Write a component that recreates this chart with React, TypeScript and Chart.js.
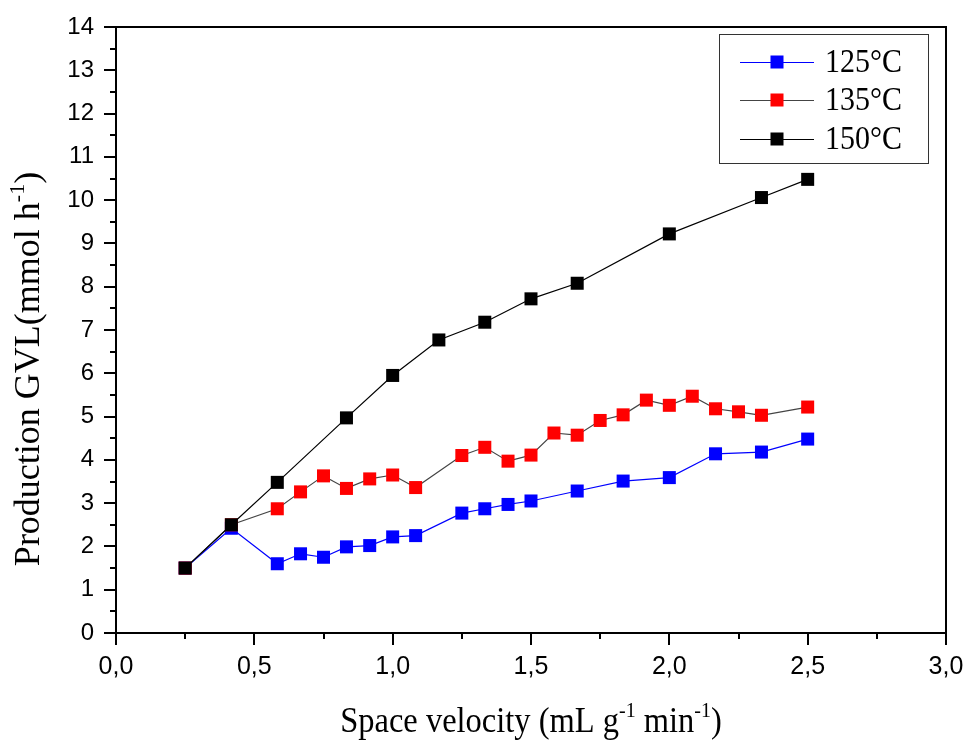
import React, { useEffect, useRef } from "react";
import { Chart, registerables } from "chart.js";

Chart.register(...registerables);

// ---- data ----
const x125 = [0.25, 0.417, 0.583, 0.667, 0.75, 0.833, 0.917, 1.0, 1.083, 1.25, 1.333, 1.417, 1.5, 1.667, 1.833, 2.0, 2.167, 2.333, 2.5];
const y125 = [1.5, 2.42, 1.6, 1.83, 1.75, 1.99, 2.02, 2.22, 2.25, 2.77, 2.87, 2.97, 3.05, 3.28, 3.51, 3.59, 4.14, 4.18, 4.48];

const x135 = [0.25, 0.417, 0.583, 0.667, 0.75, 0.833, 0.917, 1.0, 1.083, 1.25, 1.333, 1.417, 1.5, 1.583, 1.667, 1.75, 1.833, 1.917, 2.0, 2.083, 2.167, 2.25, 2.333, 2.5];
const y135 = [1.5, 2.5, 2.87, 3.26, 3.63, 3.34, 3.56, 3.65, 3.36, 4.1, 4.29, 3.97, 4.11, 4.62, 4.57, 4.91, 5.04, 5.38, 5.26, 5.47, 5.18, 5.11, 5.03, 5.22];

const x150 = [0.25, 0.417, 0.583, 0.833, 1.0, 1.167, 1.333, 1.5, 1.667, 2.0, 2.333, 2.5];
const y150 = [1.5, 2.5, 3.48, 4.97, 5.95, 6.77, 7.18, 7.72, 8.08, 9.22, 10.06, 10.48];

const seriesLabels = ["125°C", "135°C", "150°C"];
const markerColors = ["#0000ff", "#ff0000", "#000000"];
const lineColors = ["#0000ff", "#444444", "#000000"];

const xMin = 0, xMax = 3, xStep = 0.5, xMinorPerMajor = 2;
const yMin = 0, yMax = 14, yStep = 1, yMinorPerMajor = 2;

const xTitleParts = [
  { t: "Space velocity (mL g", sup: false },
  { t: "-1", sup: true },
  { t: " min", sup: false },
  { t: "-1", sup: true },
  { t: ")", sup: false },
];
const yTitleParts = [
  { t: "Production GVL(mmol h", sup: false },
  { t: "-1", sup: true },
  { t: ")", sup: false },
];

const toPts = (xs: number[], ys: number[]) => xs.map((x, i) => ({ x, y: ys[i] }));

const SERIF = "'Liberation Serif', 'Times New Roman', serif";
const SANS = "'Liberation Sans', Arial, sans-serif";
const PT_R = 9.2;

function drawRich(ctx: CanvasRenderingContext2D, parts: { t: string; sup: boolean }[], size: number) {
  const big = `${size}px ${SERIF}`;
  const small = `${Math.round(size * 0.6)}px ${SERIF}`;
  let total = 0;
  for (const p of parts) {
    ctx.font = p.sup ? small : big;
    total += ctx.measureText(p.t).width;
  }
  let x = -total / 2;
  ctx.textBaseline = "alphabetic";
  ctx.textAlign = "left";
  for (const p of parts) {
    ctx.font = p.sup ? small : big;
    ctx.fillText(p.t, x, p.sup ? -size * 0.42 : 0);
    x += ctx.measureText(p.t).width;
  }
}

const decorPlugin = {
  id: "decor",
  afterDraw(chart: any) {
    const ctx: CanvasRenderingContext2D = chart.ctx;
    const { left, right, top, bottom } = chart.chartArea;
    const xs = chart.scales.x;
    const ys = chart.scales.y;
    ctx.save();
    ctx.strokeStyle = "#000";
    ctx.fillStyle = "#000";
    // frame
    ctx.lineWidth = 2;
    ctx.strokeRect(left, top, right - left, bottom - top);
    // x ticks
    const nx = Math.round((xMax - xMin) / xStep) * xMinorPerMajor;
    for (let i = 0; i <= nx; i++) {
      const v = xMin + (i * xStep) / xMinorPerMajor;
      const px = Math.round(xs.getPixelForValue(v));
      const len = i % xMinorPerMajor === 0 ? 12 : 6;
      ctx.beginPath();
      ctx.moveTo(px, bottom);
      ctx.lineTo(px, bottom + len);
      ctx.stroke();
    }
    const ny = Math.round((yMax - yMin) / yStep) * yMinorPerMajor;
    for (let i = 0; i <= ny; i++) {
      const v = yMin + (i * yStep) / yMinorPerMajor;
      const py = Math.round(ys.getPixelForValue(v));
      const len = i % yMinorPerMajor === 0 ? 12 : 6;
      ctx.beginPath();
      ctx.moveTo(left, py);
      ctx.lineTo(left - len, py);
      ctx.stroke();
    }
    // axis titles
    ctx.save();
    ctx.translate((left + right) / 2, 732);
    ctx.scale(1, 1.1);
    drawRich(ctx, xTitleParts, 32.5);
    ctx.restore();
    ctx.save();
    ctx.translate(39, 369);
    ctx.rotate(-Math.PI / 2);
    drawRich(ctx, yTitleParts, 36);
    ctx.restore();
    // legend
    const lx = 719, ly = 34, lw = 209, lh = 129;
    ctx.fillStyle = "#fff";
    ctx.fillRect(lx, ly, lw, lh);
    ctx.lineWidth = 1;
    ctx.strokeStyle = "#333";
    ctx.strokeRect(lx + 0.5, ly + 0.5, lw, lh);
    const rows = [62, 100, 139];
    for (let i = 0; i < seriesLabels.length; i++) {
      const yy = rows[i];
      ctx.strokeStyle = lineColors[i];
      ctx.lineWidth = 1.2;
      ctx.beginPath();
      ctx.moveTo(740, yy + 0.5);
      ctx.lineTo(814, yy + 0.5);
      ctx.stroke();
      ctx.fillStyle = markerColors[i];
      ctx.fillRect(777 - 6.5, yy - 6.5, 13, 13);
      ctx.fillStyle = "#000";
      ctx.save();
      ctx.translate(825, yy + 1);
      ctx.scale(1, 1.12);
      ctx.font = `30px ${SERIF}`;
      ctx.textAlign = "left";
      ctx.textBaseline = "middle";
      ctx.fillText(seriesLabels[i], 0, 0);
      ctx.restore();
    }
    ctx.restore();
  },
};

export default function App() {
  const ref = useRef<HTMLCanvasElement | null>(null);
  useEffect(() => {
    if (!ref.current) return;
    const mk = (i: number, xs: number[], ysv: number[]) => ({
      label: seriesLabels[i],
      data: toPts(xs, ysv),
      borderColor: lineColors[i],
      backgroundColor: markerColors[i],
      pointBackgroundColor: markerColors[i],
      pointBorderColor: markerColors[i],
      pointBorderWidth: 0,
      pointStyle: "rect",
      pointRadius: PT_R,
      borderWidth: 1.2,
      tension: 0,
      fill: false,
    });
    const chart = new Chart(ref.current, {
      type: "line",
      data: {
        datasets: [mk(2, x150, y150), mk(1, x135, y135), mk(0, x125, y125)],
      },
      options: {
        responsive: false,
        animation: false,
        events: [],
        layout: { padding: { left: 0, top: 27, right: 22, bottom: 0 } },
        plugins: { legend: { display: false }, tooltip: { enabled: false }, title: { display: false } },
        scales: {
          x: {
            type: "linear",
            min: xMin,
            max: xMax,
            grid: { display: false, drawTicks: false },
            border: { display: false },
            ticks: {
              stepSize: xStep,
              padding: 19,
              color: "#000",
              font: { family: SANS, size: 25 },
              maxRotation: 0,
              callback: (v: any) => Number(v).toFixed(1).replace(".", ","),
            },
            afterFit: (s: any) => { s.height = 110; s.paddingLeft = 0; s.paddingRight = 0; },
          },
          y: {
            type: "linear",
            min: yMin,
            max: yMax,
            grid: { display: false, drawTicks: false },
            border: { display: false },
            ticks: {
              stepSize: yStep,
              padding: 22,
              color: "#000",
              font: { family: SANS, size: 24 },
              callback: (v: any) => String(v),
            },
            afterFit: (s: any) => { s.width = 116; s.paddingTop = 0; s.paddingBottom = 0; },
          },
        },
      } as any,
      plugins: [decorPlugin],
    });
    return () => chart.destroy();
  }, []);
  return (
    <div style={{ position: "absolute", left: 0, top: 0, width: 968, height: 743, background: "#fff" }}>
      <canvas ref={ref} width={968} height={743} style={{ display: "block" }} />
    </div>
  );
}
